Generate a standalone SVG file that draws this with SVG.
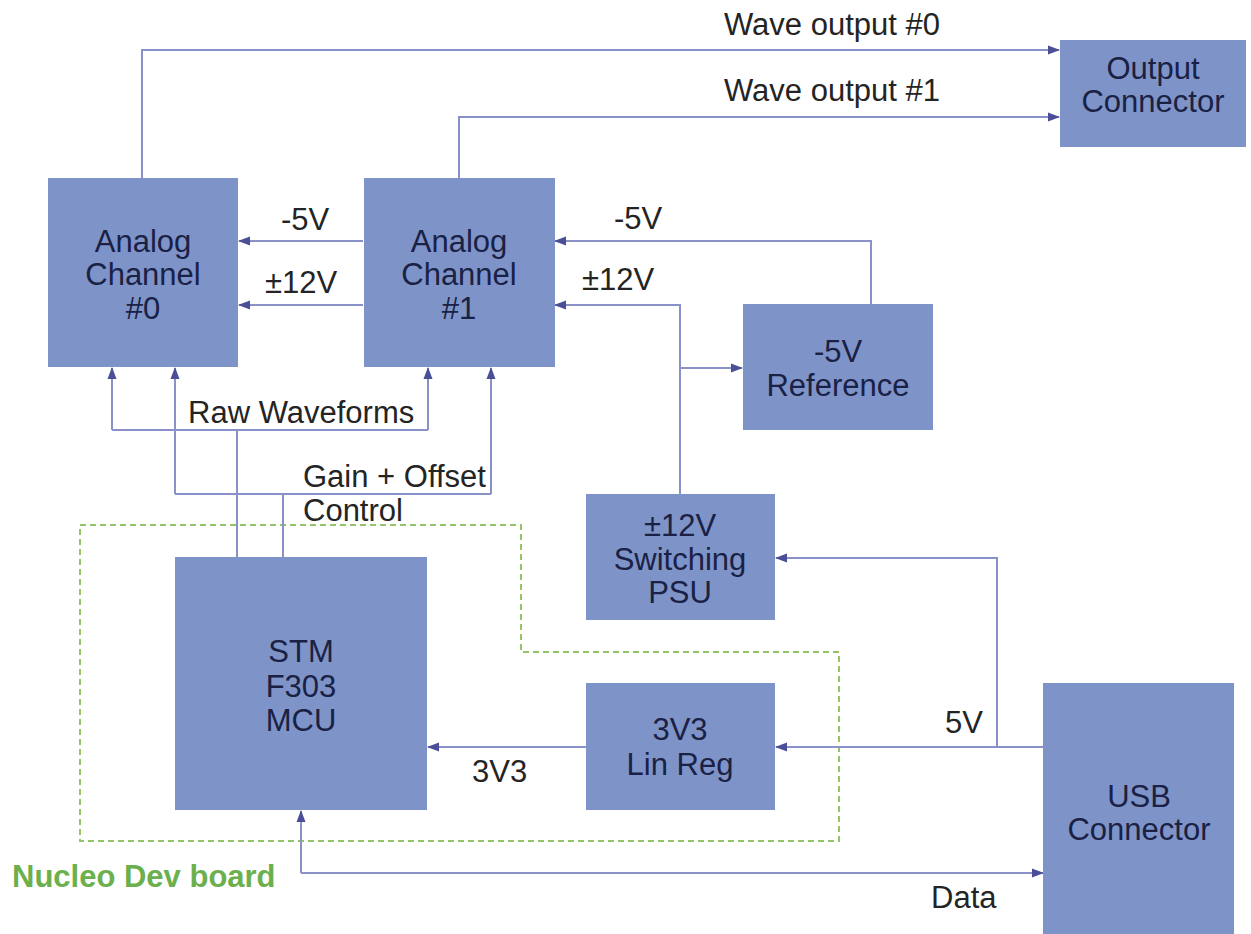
<svg xmlns="http://www.w3.org/2000/svg" width="1251" height="934" viewBox="0 0 1251 934">
<style>
.box{fill:#7e94c9;}
.bt{font-family:"Liberation Sans",Arial,sans-serif;font-size:31px;fill:#1a2144;text-anchor:middle;}
.lb{font-family:"Liberation Sans",Arial,sans-serif;font-size:31px;fill:#242424;}
.wire{fill:none;stroke:#8a91c8;stroke-width:2;}
.arr{marker-end:url(#ah);}
.dash{fill:none;stroke:#93c46a;stroke-width:2;stroke-dasharray:6 4;}
.grn{font-family:"Liberation Sans",Arial,sans-serif;font-size:31px;font-weight:bold;fill:#6bb04d;}
</style>
<defs>
<marker id="ah" markerWidth="12" markerHeight="12" refX="11" refY="6" orient="auto" markerUnits="userSpaceOnUse">
<path d="M0,1.5 L12,6 L0,10.5 Z" fill="#4b4f97"/>
</marker>
</defs>
<rect width="1251" height="934" fill="#ffffff"/>

<g id="nucleo-board">
<path class="dash" d="M80,525 H521 V652 H839 V841 H80 Z"/>
<text class="grn" x="12" y="887">Nucleo Dev board</text>
</g>

<g id="connectors">
<path class="wire arr" d="M142,178 V50 H1059"/>
<path class="wire arr" d="M459,178 V117 H1059"/>
<path class="wire arr" d="M363,241 H239"/>
<path class="wire arr" d="M363,305 H239"/>
<path class="wire arr" d="M871,304 V241 H555"/>
<path class="wire arr" d="M680,494 V305 H555"/>
<path class="wire arr" d="M680,368 H742"/>
<path class="wire" d="M237,557 V430 M112,430 H428"/>
<path class="wire arr" d="M112,430 V368"/>
<path class="wire arr" d="M428,430 V368"/>
<path class="wire" d="M283,557 V494 M175,494 H491"/>
<path class="wire arr" d="M175,494 V368"/>
<path class="wire arr" d="M491,494 V368"/>
<path class="wire arr" d="M586,747 H428"/>
<path class="wire arr" d="M1043,747 H776"/>
<path class="wire arr" d="M997,747 V558 H776"/>
<path class="wire arr" d="M301,873 V811"/>
<path class="wire arr" d="M301,873 H1043"/>
<text class="lb" x="724" y="35">Wave output #0</text>
<text class="lb" x="724" y="101">Wave output #1</text>
<text class="lb" x="281" y="230">-5V</text>
<text class="lb" x="265" y="293">±12V</text>
<text class="lb" x="614" y="229">-5V</text>
<text class="lb" x="582" y="290">±12V</text>
<text class="lb" x="188" y="423">Raw Waveforms</text>
<text class="lb" x="303" y="487">Gain + Offset</text>
<text class="lb" x="303" y="521">Control</text>
<text class="lb" x="472" y="782">3V3</text>
<text class="lb" x="945" y="733">5V</text>
<text class="lb" x="931" y="908">Data</text>
</g>

<g id="output-connector">
<rect class="box" x="1060" y="40" width="186" height="107"/>
<text class="bt" x="1153" y="79">Output</text>
<text class="bt" x="1153" y="112">Connector</text>
</g>

<g id="analog-channel-0">
<rect class="box" x="48" y="178" width="190" height="189"/>
<text class="bt" x="143" y="252">Analog</text>
<text class="bt" x="143" y="285">Channel</text>
<text class="bt" x="143" y="319">#0</text>
</g>

<g id="analog-channel-1">
<rect class="box" x="364" y="178" width="191" height="189"/>
<text class="bt" x="459" y="252">Analog</text>
<text class="bt" x="459" y="285">Channel</text>
<text class="bt" x="459" y="319">#1</text>
</g>

<g id="ref-5v">
<rect class="box" x="743" y="304" width="190" height="126"/>
<text class="bt" x="838" y="362">-5V</text>
<text class="bt" x="838" y="396">Reference</text>
</g>

<g id="psu-12v">
<rect class="box" x="586" y="494" width="189" height="126"/>
<text class="bt" x="680" y="536">±12V</text>
<text class="bt" x="680" y="570">Switching</text>
<text class="bt" x="680" y="603">PSU</text>
</g>

<g id="mcu">
<rect class="box" x="175" y="557" width="252" height="253"/>
<text class="bt" x="301" y="662">STM</text>
<text class="bt" x="301" y="697">F303</text>
<text class="bt" x="301" y="731">MCU</text>
</g>

<g id="lin-reg">
<rect class="box" x="586" y="683" width="189" height="127"/>
<text class="bt" x="680" y="740">3V3</text>
<text class="bt" x="680" y="775">Lin Reg</text>
</g>

<g id="usb-connector">
<rect class="box" x="1043" y="683" width="191" height="260"/>
<text class="bt" x="1139" y="807">USB</text>
<text class="bt" x="1139" y="840">Connector</text>
</g>
</svg>
